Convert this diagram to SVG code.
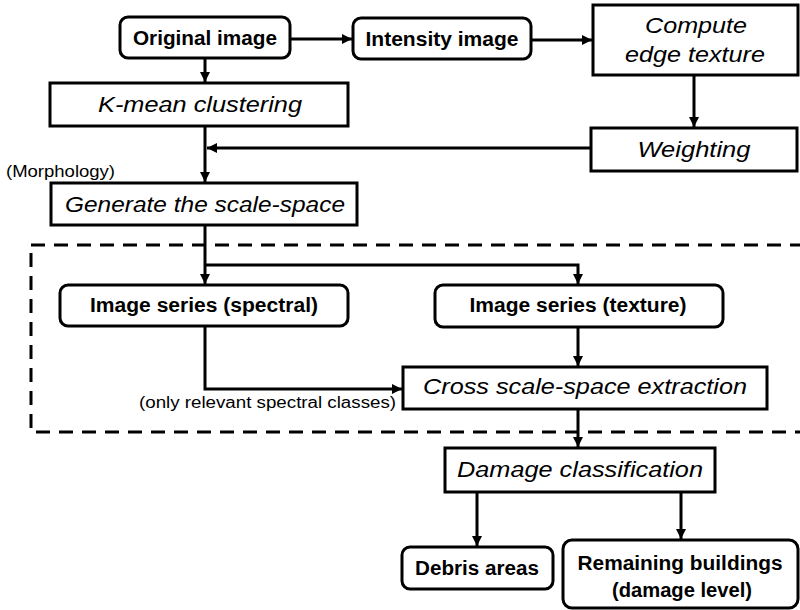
<svg xmlns="http://www.w3.org/2000/svg" width="800" height="610" viewBox="0 0 800 610">
<style>
.box{fill:#fff;stroke:#000;stroke-width:3}
.b{font-family:"Liberation Sans",Arial,sans-serif;font-weight:bold;font-size:20px;fill:#000;text-anchor:middle}
.i{font-family:"Liberation Sans",Arial,sans-serif;font-style:italic;font-size:22px;fill:#000;text-anchor:middle}
.s{font-family:"Liberation Sans",Arial,sans-serif;font-size:16px;fill:#000}
.c{fill:none;stroke:#000;stroke-width:3}
.d{fill:none;stroke:#000;stroke-width:3;stroke-dasharray:14 9}
</style>
<defs>
<marker id="ah" viewBox="0 0 10 10" refX="10" refY="5" markerWidth="10" markerHeight="10" markerUnits="userSpaceOnUse" orient="auto">
<path d="M0,0 L10,5 L0,10 z" fill="#000"/>
</marker>
</defs>
<rect class="d" x="31" y="245" width="790" height="187"/>
<g id="connectors">
<path class="c" d="M205,58 V82" marker-end="url(#ah)"/>
<path class="c" d="M290,39 H352" marker-end="url(#ah)"/>
<path class="c" d="M531,40 H592" marker-end="url(#ah)"/>
<path class="c" d="M694,75 V127" marker-end="url(#ah)"/>
<path class="c" d="M591,148 H207" marker-end="url(#ah)"/>
<path class="c" d="M205,126 V182" marker-end="url(#ah)"/>
<path class="c" d="M205,225 V284" marker-end="url(#ah)"/>
<path class="c" d="M205,265 H578 V284" marker-end="url(#ah)"/>
<path class="c" d="M578,327 V366" marker-end="url(#ah)"/>
<path class="c" d="M205,326 V389 H402" marker-end="url(#ah)"/>
<path class="c" d="M578,409 V447" marker-end="url(#ah)"/>
<path class="c" d="M477,492 V546" marker-end="url(#ah)"/>
<path class="c" d="M681,492 V539" marker-end="url(#ah)"/>
</g>
<g id="original">
<rect class="box" x="120" y="17" width="170" height="41" rx="8"/>
<text class="b" x="205" y="45" textLength="144" lengthAdjust="spacingAndGlyphs">Original image</text>
</g>
<g id="intensity">
<rect class="box" x="353" y="18" width="178" height="41" rx="8"/>
<text class="b" x="442" y="46" textLength="153" lengthAdjust="spacingAndGlyphs">Intensity image</text>
</g>
<g id="compute">
<rect class="box" x="593" y="5" width="205" height="70"/>
<text class="i" x="696" y="33" textLength="102" lengthAdjust="spacingAndGlyphs">Compute</text>
<text class="i" x="695" y="62" textLength="140" lengthAdjust="spacingAndGlyphs">edge texture</text>
</g>
<g id="weighting">
<rect class="box" x="591" y="128" width="206" height="43"/>
<text class="i" x="694" y="157" textLength="113" lengthAdjust="spacingAndGlyphs">Weighting</text>
</g>
<g id="kmean">
<rect class="box" x="50" y="83" width="298" height="43"/>
<text class="i" x="200" y="112" textLength="204" lengthAdjust="spacingAndGlyphs">K-mean clustering</text>
</g>
<text class="s" x="6" y="177" textLength="109" lengthAdjust="spacingAndGlyphs">(Morphology)</text>
<g id="generate">
<rect class="box" x="51" y="183" width="306" height="42"/>
<text class="i" x="205" y="212" textLength="280" lengthAdjust="spacingAndGlyphs">Generate the scale-space</text>
</g>
<g id="spectral">
<rect class="box" x="60" y="285" width="288" height="41" rx="8"/>
<text class="b" x="204" y="312" textLength="228" lengthAdjust="spacingAndGlyphs">Image series (spectral)</text>
</g>
<g id="texture">
<rect class="box" x="435" y="285" width="288" height="42" rx="8"/>
<text class="b" x="578" y="312" textLength="217" lengthAdjust="spacingAndGlyphs">Image series (texture)</text>
</g>
<g id="cross">
<rect class="box" x="403" y="367" width="364" height="42"/>
<text class="i" x="585" y="394" textLength="324" lengthAdjust="spacingAndGlyphs">Cross scale-space extraction</text>
</g>
<text class="s" x="139" y="408" textLength="257" lengthAdjust="spacingAndGlyphs">(only relevant spectral classes)</text>
<g id="damage">
<rect class="box" x="445" y="448" width="270" height="44"/>
<text class="i" x="580" y="477" textLength="246" lengthAdjust="spacingAndGlyphs">Damage classification</text>
</g>
<g id="debris">
<rect class="box" x="402" y="547" width="151" height="42" rx="8"/>
<text class="b" x="477" y="575" textLength="124" lengthAdjust="spacingAndGlyphs">Debris areas</text>
</g>
<g id="remaining">
<rect class="box" x="563" y="540" width="235" height="68" rx="9"/>
<text class="b" x="680" y="570" textLength="205" lengthAdjust="spacingAndGlyphs">Remaining buildings</text>
<text class="b" x="682" y="597" textLength="140" lengthAdjust="spacingAndGlyphs">(damage level)</text>
</g>
</svg>
